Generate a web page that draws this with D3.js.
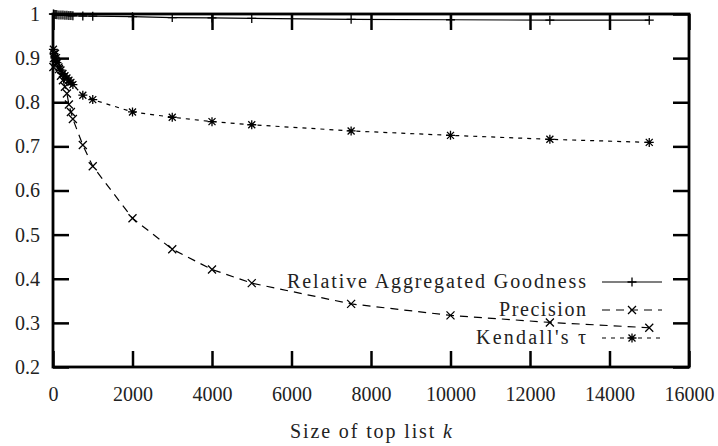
<!DOCTYPE html>
<html>
<head>
<meta charset="utf-8">
<script src="https://cdn.jsdelivr.net/npm/d3@7"></script>
<style>
  body { margin: 0; background: #fff; }
  svg text { font-family: "Liberation Serif", "Times New Roman", serif; fill: #222; }
</style>
</head>
<body>
<svg id="chart"></svg>
<script>
const kValues = [10, 25, 50, 75, 100, 150, 200, 250, 300, 350, 400, 450, 500, 750, 1000, 2000, 3000, 4000, 5000, 7500, 10000, 12500, 15000];
const goodness = [1.000, 0.9995, 0.999, 0.999, 0.9985, 0.998, 0.998, 0.9975, 0.997, 0.997, 0.9965, 0.9965, 0.996, 0.9955, 0.995, 0.994, 0.992, 0.991, 0.990, 0.988, 0.987, 0.986, 0.986];
const precision = [0.88, 0.90, 0.91, 0.90, 0.89, 0.875, 0.86, 0.85, 0.835, 0.82, 0.795, 0.778, 0.762, 0.703, 0.655, 0.537, 0.467, 0.421, 0.39, 0.343, 0.317, 0.301, 0.289];
const kendall = [0.92, 0.91, 0.90, 0.895, 0.89, 0.88, 0.873, 0.865, 0.86, 0.855, 0.85, 0.845, 0.84, 0.816, 0.806, 0.778, 0.766, 0.756, 0.749, 0.735, 0.725, 0.716, 0.709];
const xTicks = [0, 2000, 4000, 6000, 8000, 10000, 12000, 14000, 16000];
const yTicks = [0.2, 0.3, 0.4, 0.5, 0.6, 0.7, 0.8, 0.9, 1];
const seriesNames = ["Relative Aggregated Goodness", "Precision", "Kendall's \u03c4"];

const width = 718, height = 446;
const margin = { top: 14, right: 29, bottom: 79, left: 53 };
const iw = width - margin.left - margin.right;
const ih = height - margin.top - margin.bottom;
const fs = 20;

const svg = d3.select("#chart").attr("width", width).attr("height", height);
const g = svg.append("g").attr("transform", `translate(${margin.left},${margin.top})`);

const x = d3.scaleLinear().domain([0, 16000]).range([0, iw]);
const y = d3.scaleLinear().domain([0.2, 1]).range([ih, 0]);

const tickLen = 16;

// axes with inward ticks, mirrored on top/right
g.append("g").attr("transform", `translate(0,${ih})`)
  .call(d3.axisBottom(x).tickValues(xTicks).tickSizeInner(-tickLen).tickSizeOuter(0).tickPadding(20).tickFormat(d3.format("d")));
g.append("g")
  .call(d3.axisLeft(y).tickValues(yTicks).tickSizeInner(-tickLen).tickSizeOuter(0).tickPadding(13).tickFormat(d => d === 1 ? "1" : d3.format(".1f")(d)));
g.append("g").call(d3.axisTop(x).tickValues(xTicks).tickSizeInner(-tickLen).tickSizeOuter(0).tickFormat(""));
g.append("g").attr("transform", `translate(${iw},0)`)
  .call(d3.axisRight(y).tickValues(yTicks).tickSizeInner(-tickLen).tickSizeOuter(0).tickFormat(""));

g.selectAll(".domain").remove();
g.selectAll(".tick line").attr("stroke", "#000").attr("stroke-width", 2.5);
g.selectAll(".tick text").attr("font-size", fs).attr("fill", "#222")
  .attr("font-family", "Liberation Serif, serif");

g.append("rect").attr("width", iw).attr("height", ih)
  .attr("fill", "none").attr("stroke", "#000").attr("stroke-width", 2.8);

svg.append("text")
  .attr("x", margin.left + iw / 2).attr("y", 438)
  .attr("text-anchor", "middle").attr("font-size", fs)
  .attr("textLength", 162).attr("lengthAdjust", "spacing")
  .html('Size of top list <tspan font-style="italic">k</tspan>');

const markers = {
  plus: "M-4.5,0H4.5M0,-4.5V4.5",
  cross: "M-4,-4L4,4M-4,4L4,-4",
  star: "M-4.5,0H4.5M0,-4.5V4.5M-3.5,-3.5L3.5,3.5M-3.5,3.5L3.5,-3.5"
};

const series = [
  { name: seriesNames[0], values: goodness, dash: null, marker: markers.plus, w: 299 },
  { name: seriesNames[1], values: precision, dash: "8,6", marker: markers.cross, w: 87 },
  { name: seriesNames[2], values: kendall, dash: "4,5", marker: markers.star, w: 110 }
];

const line = d3.line().x(d => x(d[0])).y(d => y(d[1]));

series.forEach((s, i) => {
  const pts = kValues.map((k, j) => [k, s.values[j]]);
  g.append("path").datum(pts)
    .attr("fill", "none").attr("stroke", "#000").attr("stroke-width", 1.2)
    .attr("stroke-dasharray", s.dash)
    .attr("d", line);
  g.selectAll(null).data(pts).enter().append("path")
    .attr("transform", d => `translate(${x(d[0])},${y(d[1])})`)
    .attr("d", s.marker)
    .attr("fill", "none").attr("stroke", "#000").attr("stroke-width", 1.3);

  // legend entry
  const ly = 282 + i * 28 - margin.top;
  const lx0 = 602 - margin.left, lx1 = 662 - margin.left;
  g.append("text")
    .attr("x", 586 - margin.left).attr("y", ly + 6)
    .attr("text-anchor", "end").attr("font-size", fs)
    .attr("textLength", s.w).attr("lengthAdjust", "spacing")
    .text(s.name);
  g.append("line")
    .attr("x1", lx0).attr("x2", lx1).attr("y1", ly).attr("y2", ly)
    .attr("stroke", "#000").attr("stroke-width", 1.2)
    .attr("stroke-dasharray", s.dash);
  g.append("path")
    .attr("transform", `translate(${(lx0 + lx1) / 2},${ly})`)
    .attr("d", s.marker)
    .attr("fill", "none").attr("stroke", "#000").attr("stroke-width", 1.3);
});
</script>
</body>
</html>
